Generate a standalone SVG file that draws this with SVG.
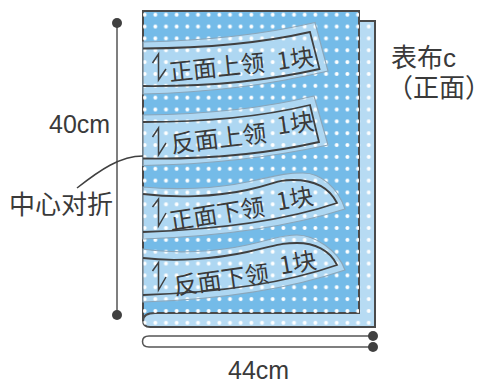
<svg xmlns="http://www.w3.org/2000/svg" width="482" height="383" viewBox="0 0 482 383">
<style>
text{font-family:"Noto Sans CJK SC","Noto Sans",sans-serif;fill:#3a3a3a}
.lbl{font-size:25px;font-family:"Liberation Sans","Noto Sans CJK SC",sans-serif}
.cn{font-size:26px;font-family:"Liberation Sans","Noto Sans CJK SC",sans-serif}
.pt{font-size:24px}
.sheet{stroke:#4a4a4a;stroke-width:2}
.pale{fill:#fff;fill-opacity:.42;stroke:#8aa6ba;stroke-width:1.2}
.cut{fill:none;stroke:#404040;stroke-width:1.8}
.lead{fill:none;stroke:#555;stroke-width:1.5}
.lead2{fill:none;stroke:#404040;stroke-width:1.5}
.arr{fill:none;stroke:#404040;stroke-width:1.5}
</style>
<defs>
<pattern id="dots" width="10.67" height="11.85" patternUnits="userSpaceOnUse" x="160.67" y="8.78">
<circle cx="5.33" cy="5.92" r="2" fill="#fff"/>
</pattern>
</defs>
<g id="back-sheet">
<path d="M143,21H375V327H150Q143,327 143,320Z" fill="#b7dbf3" class="sheet"/>
<path d="M143,21H375V327H150Q143,327 143,320Z" fill="url(#dots)"/>
</g>
<g id="front-sheet">
<path d="M143,11H359V313H155Q143,313 143,321Z" fill="#74bbe8" class="sheet"/>
<path d="M143,11H359V313H155Q143,313 143,321Z" fill="url(#dots)"/>
</g>
<g id="piece-1">
<path class="pale" d="M143,42Q240,40 315,22.500L328,71Q240,92 143,94Z"/>
<path class="cut" d="M143,48.500Q240,48 310,32L319.500,69Q240,87 143,86"/>
<path class="arr" d="M152.500,63L158.500,54V80L166,69"/>
<text class="pt" transform="translate(170,81) rotate(-6)">正面上领</text>
<text class="pt" transform="translate(278,70) rotate(-8)">1块</text>
</g>
<g id="piece-2">
<path class="pale" d="M143,115Q240,114 314,96L328,145Q240,164 143,165.500Z"/>
<path class="cut" d="M143,122Q240,122 310,105L319,142Q240,160 143,158.500"/>
<path class="arr" d="M152.500,137L158.500,128V155L166,143"/>
<text class="pt" transform="translate(172,153) rotate(-7)">反面上领</text>
<text class="pt" transform="translate(278,134.500) rotate(-8)">1块</text>
</g>
<g id="piece-3">
<path class="pale" d="M143,187C175,190 215,189 247,182S285,173 303,173S338,188 345,209Q263,235 143,239Z"/>
<path class="cut" d="M143,194C175,198 215,197 247,190S275,180 293,180S328,185 337,203Q263,228 143,232"/>
<path class="arr" d="M152.500,207L158.500,199V226L166,213"/>
<text class="pt" transform="translate(171,230) rotate(-9)">正面下领</text>
<text class="pt" transform="translate(278,210.500) rotate(-10)">1块</text>
</g>
<g id="piece-4">
<path class="pale" d="M143,249C175,254 215,252 247,245S280,235 297,235S338,250 345,270Q263,298 143,302Z"/>
<path class="cut" d="M143,258C175,262 215,259 247,252S280,243 297,243S330,250 337,265Q263,291 143,295"/>
<path class="arr" d="M152.500,271L158.500,262.500V290L166,277"/>
<text class="pt" transform="translate(175,295) rotate(-8)">反面下领</text>
<text class="pt" transform="translate(281,274.500) rotate(-10)">1块</text>
</g>
<g id="connectors">
<path class="lead" d="M117,23V315"/>
<circle cx="117" cy="23" r="5" fill="#404040"/>
<circle cx="117" cy="315" r="5" fill="#404040"/>
<path class="lead2" d="M143,156C120,156 100,170 77,188"/>
<path class="lead" d="M373,336H149Q142.500,336 142.500,341.500Q142.500,347 149,347H373"/>
<circle cx="373" cy="336" r="5" fill="#404040"/>
<circle cx="373" cy="347" r="5" fill="#404040"/>
</g>
<g id="labels">
<text class="lbl" x="49" y="133">40cm</text>
<text class="lbl" x="228" y="379">44cm</text>
<text class="cn" x="9" y="214">中心对折</text>
<text class="cn" style="font-feature-settings:'halt'"><tspan x="391" y="67">表布c</tspan><tspan x="400" y="97">（正面）</tspan></text>
</g>
</svg>
